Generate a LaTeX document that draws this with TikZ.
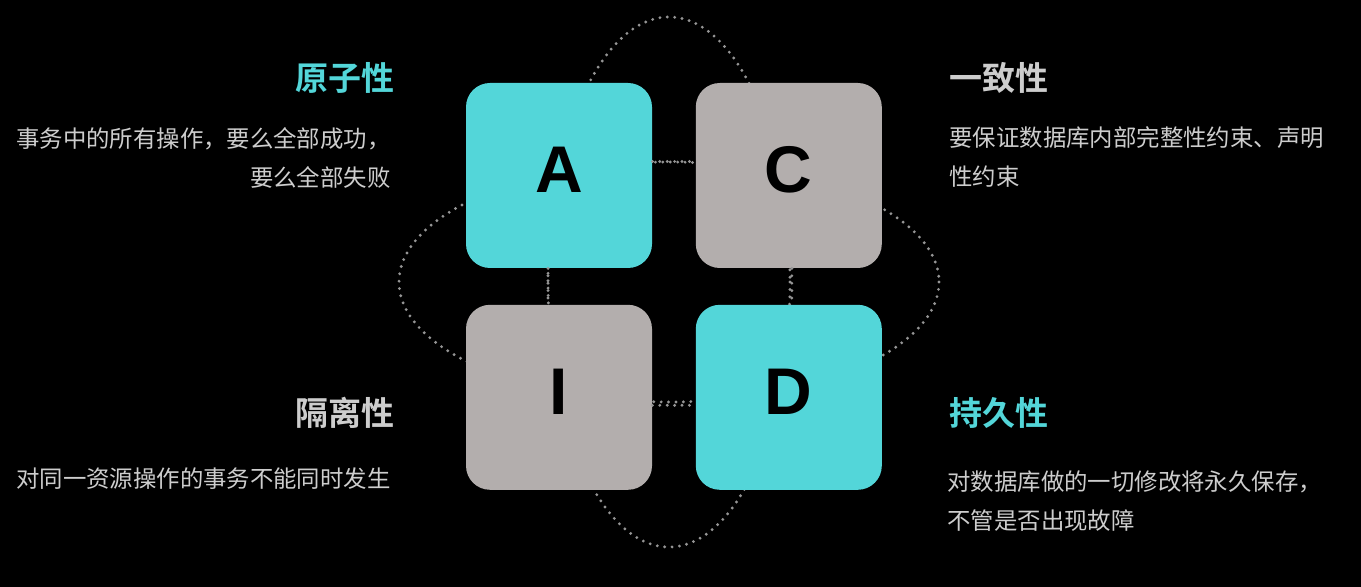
\documentclass[tikz,border=0pt]{standalone}
\usepackage{fontspec}
\newfontfamily\cjk{Noto Sans CJK SC}
\newfontfamily\cjkbold{Noto Sans CJK SC Bold}
\newfontfamily\lettersf{Liberation Sans}
\usepackage{tikz}
\usetikzlibrary{positioning}

\definecolor{acidteal}{HTML}{53D6D9}
\definecolor{acidgray}{HTML}{B3AEAD}
\definecolor{dotgray}{HTML}{959595}
\definecolor{desctext}{HTML}{CDCDCD}
\definecolor{titlegray}{HTML}{CDCDCD}

\begin{document}
\begin{tikzpicture}[x=0.5pt, y=-0.5pt,
  letterbox/.style={rounded corners=12pt, minimum width=93pt, minimum height=92.5pt,
    inner sep=0pt, text height=24pt, text depth=7pt,
    font=\lettersf\bfseries\fontsize{33}{33}\selectfont, text=black},
  title/.style={inner sep=0pt, font=\cjkbold\fontsize{16.5}{18}\selectfont},
  desc/.style={inner sep=0pt, text=desctext, font=\cjk\fontsize{11.7}{19.5}\selectfont},
  orbit/.style={draw=dotgray, line width=1.6pt, dash pattern=on 0pt off 3.7pt, line cap=round},
  link/.style={draw=dotgray, line width=1.6pt, dash pattern=on 0pt off 3.7pt, line cap=round}
]
\fill[black] (0,0) rectangle (1361,587);
\useasboundingbox (0,0) rectangle (1361,587);

% dotted orbits behind the boxes
\draw[orbit] (669,282) ellipse [x radius=121, y radius=265];
\draw[orbit] (669,282) ellipse [x radius=270, y radius=120];

% the four boxes
\node[letterbox, fill=acidteal] (A) at (559,175.5) {A};
\node[letterbox, fill=acidgray, right=21.5pt of A] (C) {C};
\node[letterbox, fill=acidgray, below=18pt of A] (I) {I};
\node[letterbox, fill=acidteal, right=21.5pt of I] (D) {D};

\draw[link] ([yshift=7pt]A.east) -- ([yshift=7pt]C.west);
\draw[link] ([yshift=-4pt]I.east) -- ([yshift=-4pt]D.west);
\draw[link] ([xshift=-5.5pt]A.south) -- ([xshift=-5.5pt]I.north);
\draw[link] ([xshift=1.5pt]C.south) -- ([xshift=1.5pt]D.north);

% titles and descriptions
\node[title, text=acidteal, anchor=east] (atom) at (395,78) {原子性};
\node[desc, align=right, anchor=east] (atomdesc) at (391,157.5) {事务中的所有操作，要么全部成功，\\要么全部失败};

\node[title, text=titlegray, anchor=west] (cons) at (949,78) {一致性};
\node[desc, align=left, anchor=west] (consdesc) at (949,157) {要保证数据库内部完整性约束、声明\\性约束};

\node[title, text=titlegray, anchor=east] (isol) at (395,413) {隔离性};
\node[desc, align=right, anchor=east] (isoldesc) at (391,479) {对同一资源操作的事务不能同时发生};

\node[title, text=acidteal, anchor=west] (dura) at (949,413) {持久性};
\node[desc, align=left, anchor=west] (duradesc) at (947,501.5) {对数据库做的一切修改将永久保存，\\不管是否出现故障};
\end{tikzpicture}
\end{document}
